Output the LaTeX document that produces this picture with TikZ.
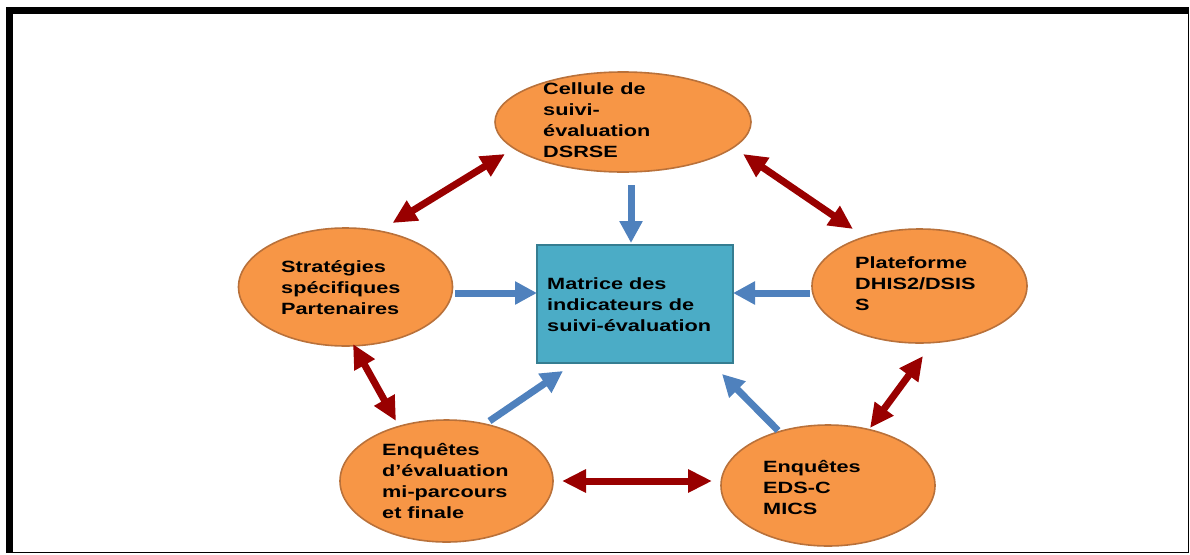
\documentclass[tikz,border=0pt]{standalone}
\usepackage{fontspec}
\newfontfamily\labfont{Liberation Sans}[FakeStretch=1.33]
\usetikzlibrary{shapes.geometric,arrows.meta,calc}
\definecolor{orfill}{HTML}{F79646}
\definecolor{ordraw}{HTML}{B9713A}
\definecolor{tealfill}{HTML}{4BACC6}
\definecolor{tealdraw}{HTML}{357D91}
\definecolor{darkred}{HTML}{990000}
\definecolor{blu}{HTML}{4F81BD}
\tikzset{
 oval/.style={ellipse, draw=ordraw, fill=orfill, line width=1.6pt, inner sep=0pt},
 lab/.style={anchor=north west, inner sep=0pt, align=left, font=\labfont\bfseries\fontsize{16.3}{21.2}\selectfont},
 redarr/.style={draw=darkred, line width=7pt, {Triangle[length=24pt,width=22pt]}-{Triangle[length=24pt,width=22pt]}},
 bluarr/.style={draw=blu, line width=7pt, -{Triangle[length=22pt,width=22pt]}},
}
\begin{document}
\begin{tikzpicture}[x=1pt,y=-1pt]
\useasboundingbox (0,0) rectangle (1190,554);
% frame
\draw[black, line width=1.6pt] (7,8) rectangle (1188.5,552.5);
\fill[black] (7,8) rectangle (1189,14);
\fill[black] (7,8) rectangle (13,553);
% nodes
\node[oval, minimum width=256pt, minimum height=100pt] (cell) at (623,122) {};
\node[oval, minimum width=214pt, minimum height=118pt] (strat) at (345.5,287) {};
\node[oval, minimum width=215pt, minimum height=114pt] (plat) at (919.5,286) {};
\node[oval, minimum width=213pt, minimum height=122pt] (eval) at (446.5,481) {};
\node[oval, minimum width=214pt, minimum height=121pt] (eds) at (828,485.5) {};
\node[draw=tealdraw, fill=tealfill, line width=2pt, minimum width=196pt, minimum height=118pt, inner sep=0pt] (mat) at (635,304) {};
% labels
\node[lab] (tcell) at (543,77) {\rule{0pt}{17pt}Cellule de\\suivi-\\évaluation\\DSRSE};
\node[lab] (tstrat) at (281,255) {\rule{0pt}{17pt}Stratégies\\spécifiques\\Partenaires};
\node[lab] (tplat) at (855,251) {\rule{0pt}{17pt}Plateforme\\DHIS2/DSIS\\S};
\node[lab] (teval) at (382,438) {\rule{0pt}{17pt}Enquêtes\\d’évaluation\\mi-parcours\\et finale};
\node[lab] (teds) at (763,455) {\rule{0pt}{17pt}Enquêtes\\EDS-C\\MICS};
\node[lab] (tmat) at (547,272) {\rule{0pt}{17pt}Matrice des\\indicateurs de\\suivi-évaluation};
% red double arrows
\draw[redarr] ($(strat)+(47,-64)$) -- ($(cell)+(-118,32)$);
\draw[redarr] ($(cell)+(120,32)$) -- ($(plat)+(-66.5,-57)$);
\draw[redarr] ($(strat)+(7.5,57)$) -- ($(eval)+(-50.5,-60)$);
\draw[redarr] ($(eval)+(115.5,0)$) -- ($(eds)+(-116,-4.5)$);
\draw[redarr] ($(plat)+(3.5,70)$) -- ($(eds)+(42,-57.5)$);
% blue arrows
\draw[bluarr] ($(cell)+(8,63)$) -- ($(mat)+(-4,-61)$);
\draw[bluarr] ($(strat)+(109.5,6)$) -- ($(mat)+(-98,-11)$);
\draw[bluarr] ($(plat)+(-109.5,7)$) -- ($(mat)+(98,-11)$);
\draw[bluarr] ($(eval)+(43,-60)$) -- ($(mat)+(-72,67)$);
\draw[bluarr] ($(eds)+(-50,-55)$) -- ($(mat)+(87,70)$);
\end{tikzpicture}
\end{document}
